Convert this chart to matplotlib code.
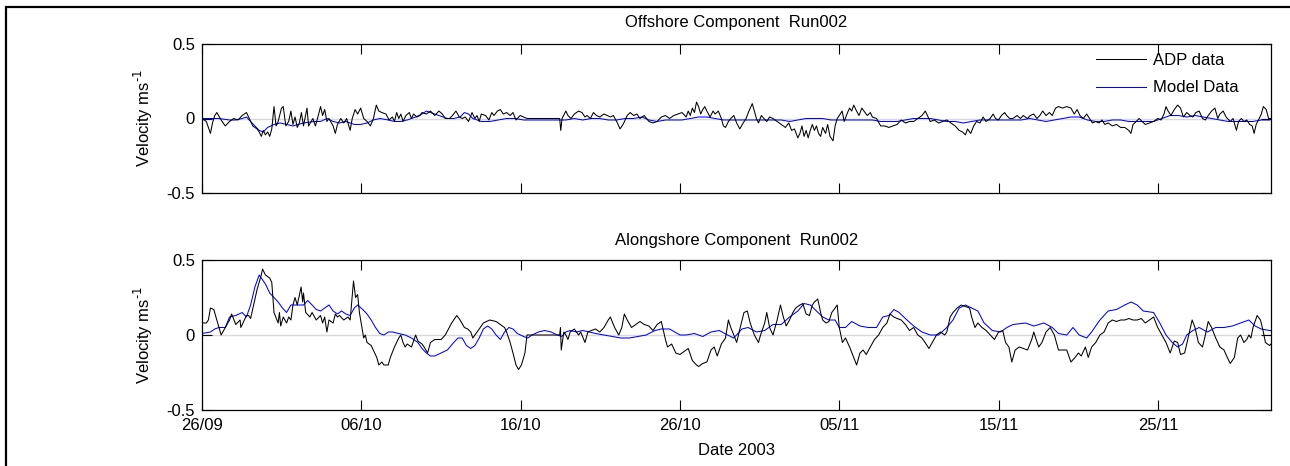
import numpy as np
import pandas as pd
import matplotlib
matplotlib.use("Agg")
import matplotlib.pyplot as plt
import matplotlib.dates as mdates
from matplotlib.patches import Rectangle

plt.rcParams['font.family'] = ['Liberation Sans', 'DejaVu Sans']
plt.rcParams['font.size'] = 12

START = pd.Timestamp('2003-09-26')
END_DAY = 67.1

# ---------------- Offshore component ----------------
off_adp_day = [0, 0.27, 0.53, 0.66, 0.80, 0.93, 1.20, 1.46, 1.73, 1.99, 2.26, 2.52, 2.79, 2.97,
               3.19, 3.45, 3.59, 3.72, 3.85, 3.98, 4.12, 4.25, 4.38, 4.52, 4.65, 4.78, 4.99, 5.10,
               5.26, 5.44, 5.58, 5.71, 5.84, 5.98, 6.11, 6.24, 6.37, 6.59, 6.69, 6.85, 6.96, 7.12,
               7.30, 7.44, 7.57, 7.70, 7.84, 7.97, 8.23, 8.37, 8.50, 8.71, 8.90, 9.08, 9.30, 9.43,
               9.61, 9.77, 9.96, 10.15, 10.36, 10.57, 10.76, 10.94, 11.10, 11.29, 11.55, 11.74,
               11.95, 12.08, 12.22, 12.35, 12.48, 12.62, 12.80, 13.01, 13.15, 13.28, 13.49, 13.68,
               13.81, 14.08, 14.34, 14.61, 14.87, 15.09, 15.27, 15.54, 15.72, 15.94, 16.15, 16.33,
               16.52, 16.73, 16.95, 17.13, 17.26, 17.40, 17.53, 17.80, 18.01, 18.19, 18.33, 18.54,
               18.73, 18.91, 19.12, 19.34, 19.52, 19.71, 19.97, 20.19, 20.40, 22.45, 22.52, 22.60,
               22.84, 22.97, 23.16, 23.37, 23.64, 23.85, 24.04, 24.17, 24.38, 24.57, 24.76, 24.97,
               25.23, 25.44, 25.63, 25.82, 26.03, 26.24, 26.43, 26.69, 26.88, 27.09, 27.30, 27.49,
               27.76,
               28.05, 28.31, 28.57, 28.83, 29.09, 29.35, 29.61, 29.87, 30.13, 30.39, 30.52, 30.65,
               30.78, 30.91, 31.04, 31.17, 31.30, 31.43, 31.56, 31.69, 31.89, 32.08, 32.21, 32.41,
               32.60, 32.73, 32.86, 33.04, 33.19, 33.38, 33.56, 33.76, 33.97, 34.15, 34.33, 34.54,
               34.67, 34.80, 34.93, 35.11, 35.27, 35.45, 35.63, 35.84, 36.10, 36.36, 36.62, 36.83,
               37.01, 37.19, 37.40, 37.53, 37.66, 37.79, 37.92, 38.05, 38.18, 38.31, 38.44, 38.57,
               38.70, 38.83, 38.96, 39.14, 39.27, 39.42, 39.61, 39.74, 39.87, 40.00, 40.18, 40.31,
               40.52, 40.65, 40.78, 40.91, 41.04, 41.24, 41.42, 41.55, 41.76, 41.95, 42.08, 42.34,
               42.60, 42.85, 43.11, 43.37, 43.63, 43.89, 44.15, 44.41, 44.67, 44.93, 45.19, 45.40,
               45.58, 45.71, 45.97, 46.23, 46.49, 46.75, 47.01, 47.27, 47.53, 47.73, 47.92, 48.05,
               48.25, 48.44, 48.62, 48.83, 49.03, 49.21, 49.47, 49.66, 49.81, 49.99, 50.18, 50.38,
               50.51, 50.70, 50.90, 51.16, 51.37, 51.55, 51.81, 51.99, 52.20, 52.41, 52.59, 52.77,
               52.98, 53.19, 53.37, 53.58, 53.76, 54.02, 54.28, 54.54, 54.75, 54.93, 55.11, 55.32,
               55.53, 55.71, 55.89, 56.10, 56.31, 56.49, 56.67, 56.88, 57.14, 57.40, 57.66, 57.92,
               58.18, 58.31, 58.44, 58.64, 58.82, 59.01, 59.21, 59.47, 59.73, 59.99, 60.20, 60.38,
               60.51, 60.64, 60.82, 61.03, 61.24, 61.42, 61.60, 61.81, 62.02, 62.20, 62.38, 62.59,
               62.80, 62.98, 63.16, 63.37, 63.58, 63.76, 63.89, 64.10, 64.28, 64.54, 64.72, 64.93,
               65.06, 65.24, 65.40, 65.58, 65.76, 65.92, 66.04, 66.17, 66.36, 66.49, 66.62, 66.80,
               66.95, 67.08]
off_adp_vel = [0.00, -0.02, -0.10, -0.03, 0.02, 0.04, -0.01, -0.05, -0.02, 0.00, -0.01, 0.02, 0.04, 0.00,
               -0.05, -0.07, -0.09, -0.12, -0.08, -0.11, -0.09, -0.12, -0.07, 0.08, -0.05, -0.02, 0.07, 0.08,
               -0.05, -0.02, 0.05, -0.04, 0.01, -0.06, -0.03, 0.04, -0.05, 0.07, -0.05, -0.02, 0.00, -0.05,
               0.02, 0.08, 0.02, 0.06, -0.02, 0.00, -0.05, -0.10, -0.04, 0.00, -0.03, 0.00, -0.08, 0.00,
               0.06, 0.03, 0.07, 0.00, -0.02, -0.05, 0.00, 0.09, 0.05, 0.04, 0.03, -0.01,
               0.01, -0.02, 0.04, 0.00, 0.03, -0.02, 0.02, 0.04, 0.00, 0.03, 0.01, 0.02,
               0.04, 0.03, 0.05, 0.02, 0.05, 0.03, 0.00, 0.00, 0.02, 0.05, 0.01, 0.00,
               0.01, -0.02, 0.04, 0.00, 0.02, -0.02, 0.03, 0.02, -0.01, 0.04, 0.02, 0.05,
               0.06, 0.03, 0.04, 0.02, 0.04, -0.01, 0.02, 0.01, 0.00, 0.00, -0.08, 0.00,
               0.05, 0.02, 0.00, 0.03, 0.05, 0.04, 0.01, 0.02, 0.00, 0.04, 0.02, 0.01,
               0.03, 0.02, 0.01, 0.02, -0.02, -0.07, -0.04, 0.02, 0.04, 0.02, 0.03, 0.00,
               0.02,
               -0.02, -0.03, -0.02, 0.01, 0.02, 0.00, 0.02, 0.03, 0.04, 0.01, 0.05, 0.02,
               0.07, 0.04, 0.11, 0.08, 0.03, 0.06, 0.08, 0.05, 0.01, 0.05, 0.03, 0.05,
               0.00, -0.05, -0.06, -0.02, 0.00, 0.02, -0.03, -0.07, -0.03, 0.00, 0.05, 0.10,
               0.05, 0.00, -0.03, 0.02, 0.00, -0.02, 0.01, 0.00, -0.02, -0.04, -0.06, -0.03,
               -0.08, -0.07, -0.13, -0.10, -0.05, -0.12, -0.08, -0.13, -0.08, -0.04, -0.08, -0.05,
               -0.10, -0.12, -0.06, -0.10, -0.04, -0.12, -0.15, -0.05, 0.00, 0.02, 0.05, -0.02,
               0.04, 0.07, 0.05, 0.09, 0.06, 0.02, 0.07, 0.05, 0.02, 0.04, 0.01, 0.00,
               -0.05, -0.05, -0.06, -0.05, -0.04, -0.01, -0.03, -0.02, -0.02, 0.00, 0.02, 0.05,
               0.01, -0.02, -0.01, -0.03, -0.02, -0.01, -0.03, -0.05, -0.08, -0.09, -0.11, -0.07,
               -0.10, -0.05, -0.02, -0.03, 0.01, -0.02, 0.00, 0.03, 0.00, -0.01, 0.02, 0.04,
               0.02, 0.00, 0.00, 0.02, 0.00, 0.02, 0.00, 0.02, 0.03, 0.00, 0.02, 0.05,
               0.02, 0.04, 0.02, 0.07, 0.08, 0.07, 0.08, 0.07, 0.03, 0.06, 0.02, 0.00,
               0.03, 0.00, -0.03, -0.02, -0.03, -0.01, -0.04, -0.03, -0.05, -0.04, -0.06, -0.06,
               -0.08, -0.10, -0.04, -0.02, 0.00, -0.02, -0.04, -0.03, -0.02, 0.00, -0.01, 0.03,
               0.08, 0.05, 0.02, 0.06, 0.09, 0.07, 0.01, 0.04, 0.02, 0.01, 0.04, 0.05,
               0.00, -0.01, 0.02, 0.05, 0.07, 0.00, 0.03, 0.05, 0.01, -0.02, 0.00, -0.08,
               -0.02, 0.00, -0.02, -0.01, -0.04, -0.05, -0.10, -0.04, 0.00, 0.03, 0.08, 0.06,
               0.00, 0.00]

off_mod_day = [0, 1.06, 1.73, 2.12, 2.52, 2.79, 3.05, 3.32, 3.59, 3.85, 4.12, 4.52, 4.91, 5.31,
               5.71, 6.37, 7.04, 7.44, 7.84, 8.23, 8.63, 9.03, 9.56, 9.96, 10.36, 10.76, 11.16,
               11.69, 12.08, 12.48, 12.88, 13.41, 13.81, 14.08, 14.34, 14.87, 15.40, 15.80, 16.20,
               16.47, 16.73, 17.00, 17.53, 18.06, 18.59, 19.12, 19.65, 20.19, 20.72, 21.51, 22.31,
               22.84, 23.37, 23.90, 24.44, 24.97, 25.50, 26.03, 26.56, 27.09, 27.62,
               28.05, 28.57, 29.09, 29.61, 30.13, 30.65, 31.17, 31.69, 32.21, 32.73, 33.25, 33.76,
               34.28, 34.80, 35.32, 35.84, 36.36, 36.88, 37.40, 37.92, 38.44, 38.96, 39.48, 40.00,
               40.52, 41.04, 41.56, 42.08, 42.60, 43.11, 43.63, 44.15, 44.67, 45.19, 45.71, 46.23,
               46.75, 47.27, 47.79, 48.31, 48.83, 49.35, 49.87, 50.39, 50.91, 51.43, 51.95, 52.47,
               52.98, 53.50, 54.02, 54.54, 55.06, 55.58, 56.10, 56.62, 57.14, 57.66, 58.18, 58.70,
               59.21, 59.73, 60.25, 60.77, 61.29, 61.81, 62.33, 62.85, 63.37, 63.89, 64.41, 64.93,
               65.45, 65.97, 66.49, 67.01]
off_mod_vel = [0.00, 0.00, -0.01, -0.01, 0.00, 0.01, -0.02, -0.05, -0.08, -0.09, -0.06, -0.04, -0.03, -0.04,
               -0.05, -0.03, -0.02, -0.02, 0.00, -0.02, -0.03, -0.02, -0.04, -0.04, -0.03, -0.01, 0.00,
               -0.01, -0.02, -0.02, -0.01, 0.01, 0.03, 0.05, 0.04, 0.02, 0.00, 0.00, 0.01,
               0.04, 0.03, 0.00, -0.02, -0.02, -0.01, 0.00, 0.00, -0.01, -0.01, -0.01, -0.01,
               -0.01, 0.00, -0.01, 0.00, 0.00, -0.01, -0.01, 0.00, 0.00, 0.01,
               -0.01, -0.02, -0.01, -0.01, -0.01, 0.00, 0.01, 0.01, 0.00, -0.01, -0.01, -0.01,
               -0.01, -0.01, -0.01, -0.01, -0.01, -0.02, -0.01, 0.00, 0.00, 0.00, -0.01, -0.01,
               -0.01, -0.01, -0.01, -0.01, -0.02, -0.02, -0.02, -0.01, 0.00, 0.00, 0.00, -0.01,
               -0.02, -0.02, -0.03, -0.02, -0.01, -0.01, -0.01, -0.01, -0.01, -0.01, 0.00, -0.01,
               -0.02, -0.01, 0.00, 0.01, 0.01, -0.01, -0.02, -0.02, -0.01, -0.01, -0.02, -0.02,
               -0.02, -0.02, 0.00, 0.02, 0.02, 0.01, 0.02, 0.01, 0.00, -0.01, -0.02, -0.02,
               -0.02, -0.02, -0.01, -0.01]

# ---------------- Alongshore component ----------------
along_adp_day = [0, 0.27, 0.40, 0.53, 0.74, 1.20, 1.73, 1.86, 2.12, 2.39, 2.44, 2.79, 2.92, 3.05,
                 3.45, 3.72, 3.80, 3.98, 4.25, 4.38, 4.52, 4.78, 4.86, 4.94, 5.10, 5.31, 5.44, 5.58,
                 5.71, 5.84, 5.98, 6.22, 6.32, 6.37, 6.51, 6.77, 6.91, 7.17, 7.44, 7.57, 7.70, 7.84,
                 7.97, 8.23, 8.37, 8.50, 8.63, 8.90, 9.16, 9.30, 9.51, 9.64, 9.77, 9.88, 10.04, 10.15,
                 10.25, 10.36, 10.62, 10.84, 10.97, 11.10, 11.29, 11.42, 11.69, 11.82, 12.08, 12.35,
                 12.48, 12.62, 12.75, 12.88, 13.15, 13.41, 13.55, 13.81, 13.94, 14.16, 14.34, 14.61,
                 15.01, 15.27, 15.67, 15.99, 16.20, 16.47, 16.68, 16.87, 17.00, 17.13, 17.40, 17.66,
                 18.06, 18.46, 18.73, 18.99, 19.12, 19.34, 19.52, 19.71, 19.87, 20.05, 20.27, 20.40,
                 22.45, 22.50, 22.55, 22.71, 22.84, 22.97, 23.11, 23.37, 23.64, 23.77, 24.04, 24.22,
                 24.44, 24.70, 24.97, 25.23, 25.50, 25.63, 25.90, 26.16, 26.35, 26.51, 26.69, 26.96,
                 27.22, 27.49, 27.76,
                 28.05, 28.31, 28.57, 28.83, 28.96, 29.09, 29.22, 29.48, 29.74, 30.00, 30.26, 30.52,
                 30.78, 31.04, 31.17, 31.43, 31.69, 31.95, 32.15, 32.34, 32.60, 32.86, 33.04, 33.19,
                 33.38, 33.56, 33.76, 34.02, 34.23, 34.41, 34.67, 34.93, 35.06, 35.32, 35.45, 35.63,
                 35.84, 36.10, 36.31, 36.49, 36.67, 36.88, 37.09, 37.27, 37.53, 37.71, 37.92, 38.13,
                 38.31, 38.44, 38.65, 38.83, 38.96, 39.17, 39.35, 39.53, 39.74, 39.87, 40.00, 40.20,
                 40.39, 40.65, 40.91, 41.09, 41.30, 41.50, 41.69, 41.95, 42.21, 42.47, 42.73, 42.99,
                 43.19, 43.43, 43.63, 43.89, 44.15, 44.41, 44.67, 44.93, 45.19, 45.45, 45.63, 45.84,
                 46.10, 46.36, 46.62, 46.75, 46.96, 47.14, 47.40, 47.66, 47.92, 48.18, 48.31, 48.52,
                 48.70, 48.96, 49.22, 49.48, 49.74, 50.00, 50.26, 50.44, 50.65, 50.83, 51.04, 51.30,
                 51.56, 51.82, 52.08, 52.21, 52.33, 52.52, 52.72, 52.98, 53.24, 53.50, 53.76, 54.02,
                 54.28, 54.54, 54.80, 55.01, 55.19, 55.45, 55.63, 55.84, 56.10, 56.36, 56.62, 56.88,
                 57.14, 57.40, 57.66, 57.92, 58.18, 58.44, 58.70, 58.96, 59.21, 59.47, 59.73, 59.99,
                 60.25, 60.51, 60.77, 61.03, 61.24, 61.42, 61.68, 61.94, 62.15, 62.33, 62.54, 62.80,
                 62.98, 63.16, 63.37, 63.63, 63.89, 64.15, 64.36, 64.54, 64.80, 65.01, 65.19, 65.40,
                 65.58, 65.71, 65.84, 65.97, 66.23, 66.44, 66.62, 66.75, 67.01, 67.10]
along_adp_vel = [0.08, 0.08, 0.10, 0.18, 0.17, 0.00, 0.10, 0.14, 0.07, 0.10, 0.05, 0.13, 0.13, 0.11,
                 0.30, 0.40, 0.44, 0.40, 0.38, 0.35, 0.15, 0.08, 0.15, 0.06, 0.12, 0.08, 0.12, 0.10,
                 0.20, 0.25, 0.20, 0.32, 0.22, 0.28, 0.15, 0.12, 0.15, 0.10, 0.13, 0.08, 0.12, 0.02,
                 0.10, 0.08, 0.14, 0.12, 0.13, 0.10, 0.12, 0.10, 0.36, 0.25, 0.27, 0.15, 0.05, -0.02,
                 0.00, -0.05, -0.07, -0.12, -0.15, -0.20, -0.18, -0.20, -0.20, -0.15, -0.08, -0.02,
                 0.00, -0.05, -0.08, -0.06, -0.08, 0.00, -0.04, -0.06, -0.08, -0.12, -0.05, -0.03,
                 -0.03, 0.00, 0.08, 0.13, 0.10, 0.05, 0.04, 0.02, -0.02, 0.00, 0.04, 0.08,
                 0.10, 0.09, 0.07, 0.05, 0.02, -0.05, -0.12, -0.20, -0.23, -0.20, -0.12, 0.00,
                 0.00, 0.05, -0.10, 0.02, 0.00, -0.03, 0.02, 0.04, 0.00, 0.02, -0.05, 0.02,
                 0.03, 0.04, 0.02, 0.05, 0.10, 0.12, 0.05, 0.00, 0.05, 0.14, 0.10, 0.05,
                 0.07, 0.09, 0.07,
                 0.06, 0.03, 0.07, 0.09, 0.03, -0.03, -0.08, -0.06, -0.12, -0.13, -0.11, -0.09,
                 -0.17, -0.20, -0.21, -0.19, -0.18, -0.10, -0.08, -0.14, -0.06, -0.02, 0.10, 0.05,
                 0.00, -0.05, 0.04, 0.15, 0.16, 0.08, 0.00, -0.05, 0.00, 0.08, 0.15, 0.05,
                 0.00, 0.10, 0.20, 0.12, 0.06, 0.10, 0.15, 0.18, 0.20, 0.21, 0.14, 0.13,
                 0.20, 0.22, 0.24, 0.15, 0.10, 0.08, 0.09, 0.15, 0.18, 0.20, 0.05, -0.05,
                 -0.02, -0.08, -0.15, -0.20, -0.12, -0.10, -0.13, -0.08, -0.03, 0.00, 0.05, 0.08,
                 0.14, 0.12, 0.11, 0.10, 0.07, 0.03, 0.05, 0.00, -0.02, -0.06, -0.09, -0.05,
                 0.00, 0.02, 0.00, 0.02, 0.12, 0.15, 0.18, 0.20, 0.19, 0.18, 0.12, 0.05,
                 0.08, 0.05, 0.03, 0.00, -0.03, 0.02, 0.03, -0.05, -0.08, -0.18, -0.10, -0.08,
                 -0.09, -0.10, -0.03, 0.02, -0.02, -0.08, -0.05, 0.02, 0.05, 0.00, -0.10, -0.10,
                 -0.10, -0.18, -0.15, -0.12, -0.14, -0.08, -0.15, -0.08, -0.05, 0.00, 0.02, 0.08,
                 0.10, 0.09, 0.10, 0.10, 0.11, 0.10, 0.10, 0.11, 0.08, 0.10, 0.12, 0.05,
                 0.00, -0.05, -0.12, -0.04, -0.05, -0.13, -0.12, 0.00, 0.10, 0.05, -0.05, -0.08,
                 0.00, 0.09, 0.05, -0.02, -0.08, -0.10, -0.15, -0.19, -0.15, -0.02, 0.00, -0.05,
                 -0.03, 0.00, -0.02, 0.05, 0.13, 0.10, 0.02, -0.05, -0.07, -0.06]

along_mod_day = [0, 0.53, 0.80, 1.06, 1.46, 1.73, 2.12, 2.52, 2.79, 3.05, 3.32, 3.59, 3.72, 3.98,
                 4.25, 4.52, 4.78, 5.05, 5.31, 5.58, 5.84, 6.37, 6.64, 6.91, 7.17, 7.44, 7.70, 7.97,
                 8.23, 8.50, 8.76, 9.03, 9.30, 9.56, 9.77, 10.09, 10.36, 10.62, 10.89, 11.16, 11.42,
                 11.69, 11.95, 12.35, 12.75, 13.15, 13.55, 13.81, 14.08, 14.34, 14.61, 15.01, 15.40,
                 15.80, 16.07, 16.33, 16.60, 16.87, 17.13, 17.40, 17.66, 17.93, 18.19, 18.46, 18.73,
                 18.99, 19.26, 19.52, 19.79, 20.19, 20.45, 20.72, 21.12, 21.51, 21.91, 22.31, 22.58,
                 22.84, 23.11, 23.51, 23.90, 24.30, 24.70, 25.23, 25.76, 26.29, 26.83, 27.36, 27.89,
                 28.05, 28.44, 28.83, 29.35, 30.00, 30.39, 30.91, 31.43, 31.95, 32.47, 32.99, 33.38,
                 33.89, 34.28, 34.80, 35.32, 35.84, 36.36, 36.88, 37.40, 37.79, 38.18, 38.57, 38.96,
                 39.35, 39.74, 40.00, 40.39, 40.78, 41.30, 41.82, 42.34, 42.73, 43.11, 43.43, 43.76,
                 44.15, 44.67, 45.19, 45.71, 46.23, 46.75, 47.14, 47.53, 47.92, 48.31, 48.70, 49.09,
                 49.61, 50.13, 50.52, 50.91, 51.69, 52.21, 52.85, 53.37, 53.76, 54.28, 54.67, 55.06,
                 55.53, 55.84, 56.36, 56.88, 57.40, 57.92, 58.31, 58.70, 59.08, 59.73, 60.12, 60.51,
                 60.90, 61.24, 61.55, 61.81, 62.20, 62.59, 63.11, 63.63, 64.15, 64.67, 65.19, 65.71,
                 66.10, 66.49, 67.01, 67.10]
along_mod_vel = [0.01, 0.02, 0.04, 0.05, 0.05, 0.12, 0.13, 0.15, 0.12, 0.20, 0.32, 0.40, 0.38, 0.34,
                 0.28, 0.25, 0.22, 0.18, 0.15, 0.20, 0.20, 0.20, 0.23, 0.20, 0.17, 0.16, 0.18, 0.20,
                 0.16, 0.14, 0.16, 0.14, 0.13, 0.18, 0.20, 0.17, 0.14, 0.10, 0.05, 0.01, 0.00,
                 0.02, 0.02, 0.01, 0.00, -0.02, -0.05, -0.09, -0.12, -0.14, -0.14, -0.12, -0.10,
                 -0.05, -0.02, -0.02, -0.07, -0.09, -0.07, -0.02, 0.04, 0.06, 0.04, 0.00, -0.03,
                 0.02, 0.05, 0.04, 0.01, -0.01, -0.02, 0.00, 0.02, 0.03, 0.02, 0.00, -0.01,
                 0.02, 0.03, 0.02, 0.03, 0.02, 0.01, 0.00, -0.01, -0.02, -0.02, -0.01, 0.00,
                 0.01, 0.03, 0.04, 0.04, 0.00, 0.00, 0.01, -0.01, 0.02, 0.03, 0.00, -0.02,
                 0.04, 0.05, 0.02, 0.03, 0.07, 0.07, 0.12, 0.16, 0.21, 0.20, 0.16, 0.12,
                 0.10, 0.10, 0.05, 0.05, 0.09, 0.06, 0.05, 0.05, 0.12, 0.13, 0.17, 0.15,
                 0.11, 0.06, 0.02, 0.00, 0.00, 0.05, 0.10, 0.18, 0.20, 0.18, 0.16, 0.08,
                 0.03, 0.02, 0.05, 0.07, 0.08, 0.06, 0.08, 0.05, 0.01, 0.00, 0.05, 0.00,
                 -0.02, 0.02, 0.10, 0.16, 0.17, 0.20, 0.22, 0.20, 0.16, 0.15, 0.08, 0.00,
                 -0.05, -0.08, -0.06, 0.00, 0.03, 0.05, 0.02, 0.05, 0.05, 0.06, 0.08, 0.10,
                 0.06, 0.04, 0.03, 0.03]

tick_dates = ['2003-09-26', '2003-10-06', '2003-10-16', '2003-10-26',
              '2003-11-05', '2003-11-15', '2003-11-25']
y_ticks = [-0.5, 0, 0.5]
y_tick_labels = ['-0.5', '0', '0.5']

titles = ['Offshore Component  Run002', 'Alongshore Component  Run002']
title_pads = [12, 11]
legend_labels = ['ADP data', 'Model Data']


def to_time(days):
    return START + pd.to_timedelta(np.asarray(days, dtype=float), unit='D')


W, H = 1290, 466
fig = plt.figure(figsize=(W / 100, H / 100), dpi=100)
fig.patch.set_facecolor('white')

# outer frame (left/top edges visible; right/bottom run off the canvas)
fig.add_artist(Rectangle((6 / W, -0.05), 1.2, 1 - 7 / H + 0.05, transform=fig.transFigure,
                         fill=False, edgecolor='black', linewidth=1.6, clip_on=False))

left, width = 202 / W, (1271 - 202) / W
ax_top = fig.add_axes([left, 1 - 193 / H, width, (193 - 44) / H])
ax_bot = fig.add_axes([left, 1 - 410 / H, width, (410 - 260) / H])

series = [
    (ax_top, off_adp_day, off_adp_vel, off_mod_day, off_mod_vel, titles[0], title_pads[0]),
    (ax_bot, along_adp_day, along_adp_vel, along_mod_day, along_mod_vel, titles[1], title_pads[1]),
]

xmin, xmax = to_time([0, END_DAY])
for ax, ad, av, md, mv, title, tpad in series:
    ax.axhline(0, color='#d9d9d9', linewidth=1.0, zorder=1)
    ax.plot(to_time(ad), av, color='black', linewidth=0.75, zorder=3, label=legend_labels[0])
    ax.plot(to_time(md), mv, color='#0000ff', linewidth=0.75, zorder=2, label=legend_labels[1])
    ax.set_xlim(xmin, xmax)
    ax.set_ylim(-0.5, 0.5)
    ax.set_yticks(y_ticks)
    ax.set_yticklabels(y_tick_labels)
    ax.set_xticks(pd.to_datetime(tick_dates))
    ax.xaxis.set_major_formatter(mdates.DateFormatter('%d/%m'))
    ax.tick_params(direction='in', length=7, width=0.8, top=True, right=True,
                   labelsize=12, pad=5)
    for sp in ax.spines.values():
        sp.set_linewidth(0.9)
    ax.set_ylabel('Velocity ms$^{\\text{-}1}$', fontsize=12, labelpad=8)
    ax.set_title(title, fontsize=12, pad=tpad)

ax_top.tick_params(labelbottom=False)
ax_bot.tick_params(axis='x', pad=6)
ax_bot.set_xlabel('Date 2003', fontsize=12, labelpad=7)

handles, labels = ax_top.get_legend_handles_labels()
ax_top.legend(handles, labels, loc='upper right', frameon=False, fontsize=12,
              bbox_to_anchor=(1239 / W, 1 - 53 / H), bbox_transform=fig.transFigure,
              borderpad=0, borderaxespad=0, handlelength=3.05, handletextpad=0.42,
              labelspacing=0.75)

fig.savefig('out.png', dpi=100)
